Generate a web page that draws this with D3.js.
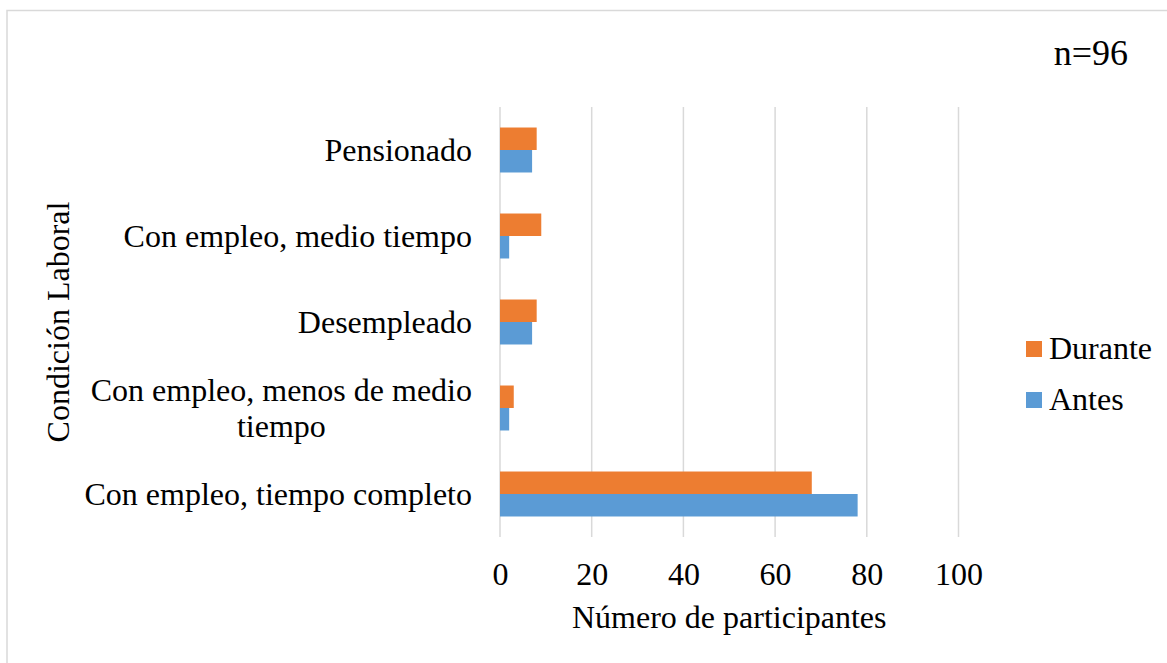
<!DOCTYPE html>
<html>
<head>
<meta charset="utf-8">
<script src="https://cdn.jsdelivr.net/npm/d3@7"></script>
<style>
  body { margin: 0; background: #fff; }
  svg text { font-family: "Liberation Serif", "Times New Roman", serif; fill: #000; }
</style>
</head>
<body>
<div id="chart"></div>
<script>
var categories = ["Pensionado", "Con empleo, medio tiempo", "Desempleado",
                  "Con empleo, menos de medio tiempo", "Con empleo, tiempo completo"];
var series = ["Durante", "Antes"];
var durante = [8, 9, 8, 3, 68];
var antes = [7, 2, 7, 2, 78];
var xTicks = [0, 20, 40, 60, 80, 100];
var colors = {Durante: "#ED7D31", Antes: "#5B9BD5"};

var width = 1167, height = 663;
var plot = {left: 500, right: 958.5, top: 107, bottom: 537};

var svg = d3.select("#chart").append("svg")
    .attr("width", width)
    .attr("height", height);

// chart area border (only top and left visible in the reference)
svg.append("rect")
    .attr("x", 7).attr("y", 10.5)
    .attr("width", width + 20).attr("height", height + 20)
    .attr("fill", "none")
    .attr("stroke", "#d9d9d9")
    .attr("stroke-width", 1.5);

var x = d3.scaleLinear().domain([0, 100]).range([plot.left, plot.right]);

var y = d3.scaleBand()
    .domain(categories)
    .range([plot.top, plot.bottom])
    .paddingInner(0.477)
    .paddingOuter(0.2385);

var ySub = d3.scaleBand().domain(series).range([0, y.bandwidth()]);

var rows = categories.map(function(c, i) {
  return {cat: c, Durante: durante[i], Antes: antes[i]};
});

// gridlines
svg.append("g").selectAll("line")
    .data(xTicks)
    .enter().append("line")
    .attr("x1", function(d) { return x(d); })
    .attr("x2", function(d) { return x(d); })
    .attr("y1", plot.top)
    .attr("y2", plot.bottom)
    .attr("stroke", "#d9d9d9")
    .attr("stroke-width", 1.5);

// bars
var groups = svg.append("g").selectAll("g")
    .data(rows)
    .enter().append("g")
    .attr("transform", function(d) { return "translate(0," + y(d.cat) + ")"; });

groups.selectAll("rect")
    .data(function(d) { return series.map(function(s) { return {key: s, value: d[s]}; }); })
    .enter().append("rect")
    .attr("x", x(0))
    .attr("y", function(d) { return ySub(d.key); })
    .attr("height", ySub.bandwidth())
    .attr("width", function(d) { return x(d.value) - x(0); })
    .attr("fill", function(d) { return colors[d.key]; });

// x axis tick labels
var xAxis = svg.append("g")
    .attr("transform", "translate(0," + plot.bottom + ")")
    .call(d3.axisBottom(x).tickValues(xTicks).tickSize(0));
xAxis.select(".domain").remove();
xAxis.selectAll("text")
    .attr("y", 48)
    .attr("dy", 0)
    .style("font-family", "'Liberation Serif', 'Times New Roman', serif")
    .style("font-size", "32px")
    .attr("fill", "#000");

// category labels, wrapped like the spreadsheet does
var labelRight = 472, maxLabelWidth = 400, lineHeight = 36;
var labels = svg.append("g").selectAll("text")
    .data(categories)
    .enter().append("text")
    .style("font-size", "32px")
    .each(function(c) {
      var t = d3.select(this);
      var words = c.split(" "), lines = [], line = [];
      var tmp = t.append("tspan");
      words.forEach(function(w) {
        line.push(w);
        tmp.text(line.join(" "));
        if (tmp.node().getComputedTextLength() > maxLabelWidth && line.length > 1) {
          line.pop();
          lines.push(line.join(" "));
          line = [w];
        }
      });
      lines.push(line.join(" "));
      tmp.text(lines[0]);
      var w0 = tmp.node().getComputedTextLength();
      tmp.remove();
      var cy = y(c) + y.bandwidth() / 2;
      var first = cy - (lines.length - 1) * lineHeight / 2 + 11;
      if (lines.length === 1) {
        t.attr("text-anchor", "end").attr("x", labelRight).attr("y", first).text(c);
      } else {
        var cx = labelRight - w0 / 2;
        t.attr("text-anchor", "middle");
        lines.forEach(function(l, i) {
          t.append("tspan").attr("x", cx).attr("y", first + i * lineHeight).text(l);
        });
      }
    });

// axis titles
svg.append("text")
    .attr("x", (plot.left + plot.right) / 2)
    .attr("y", 628)
    .attr("text-anchor", "middle")
    .style("font-size", "32px")
    .text("Número de participantes");

svg.append("text")
    .attr("transform", "translate(69,322) rotate(-90)")
    .attr("text-anchor", "middle")
    .style("font-size", "32px")
    .text("Condición Laboral");

// n label
svg.append("text")
    .attr("x", 1128)
    .attr("y", 65)
    .attr("text-anchor", "end")
    .style("font-size", "36px")
    .text("n=96");

// legend
var legend = svg.append("g").selectAll("g")
    .data(series)
    .enter().append("g")
    .attr("transform", function(d, i) { return "translate(1026," + (341 + i * 51) + ")"; });

legend.append("rect")
    .attr("width", 16)
    .attr("height", 16)
    .attr("fill", function(d) { return colors[d]; });

legend.append("text")
    .attr("x", 23)
    .attr("y", 18)
    .style("font-size", "32px")
    .text(function(d) { return d; });
</script>
</body>
</html>
